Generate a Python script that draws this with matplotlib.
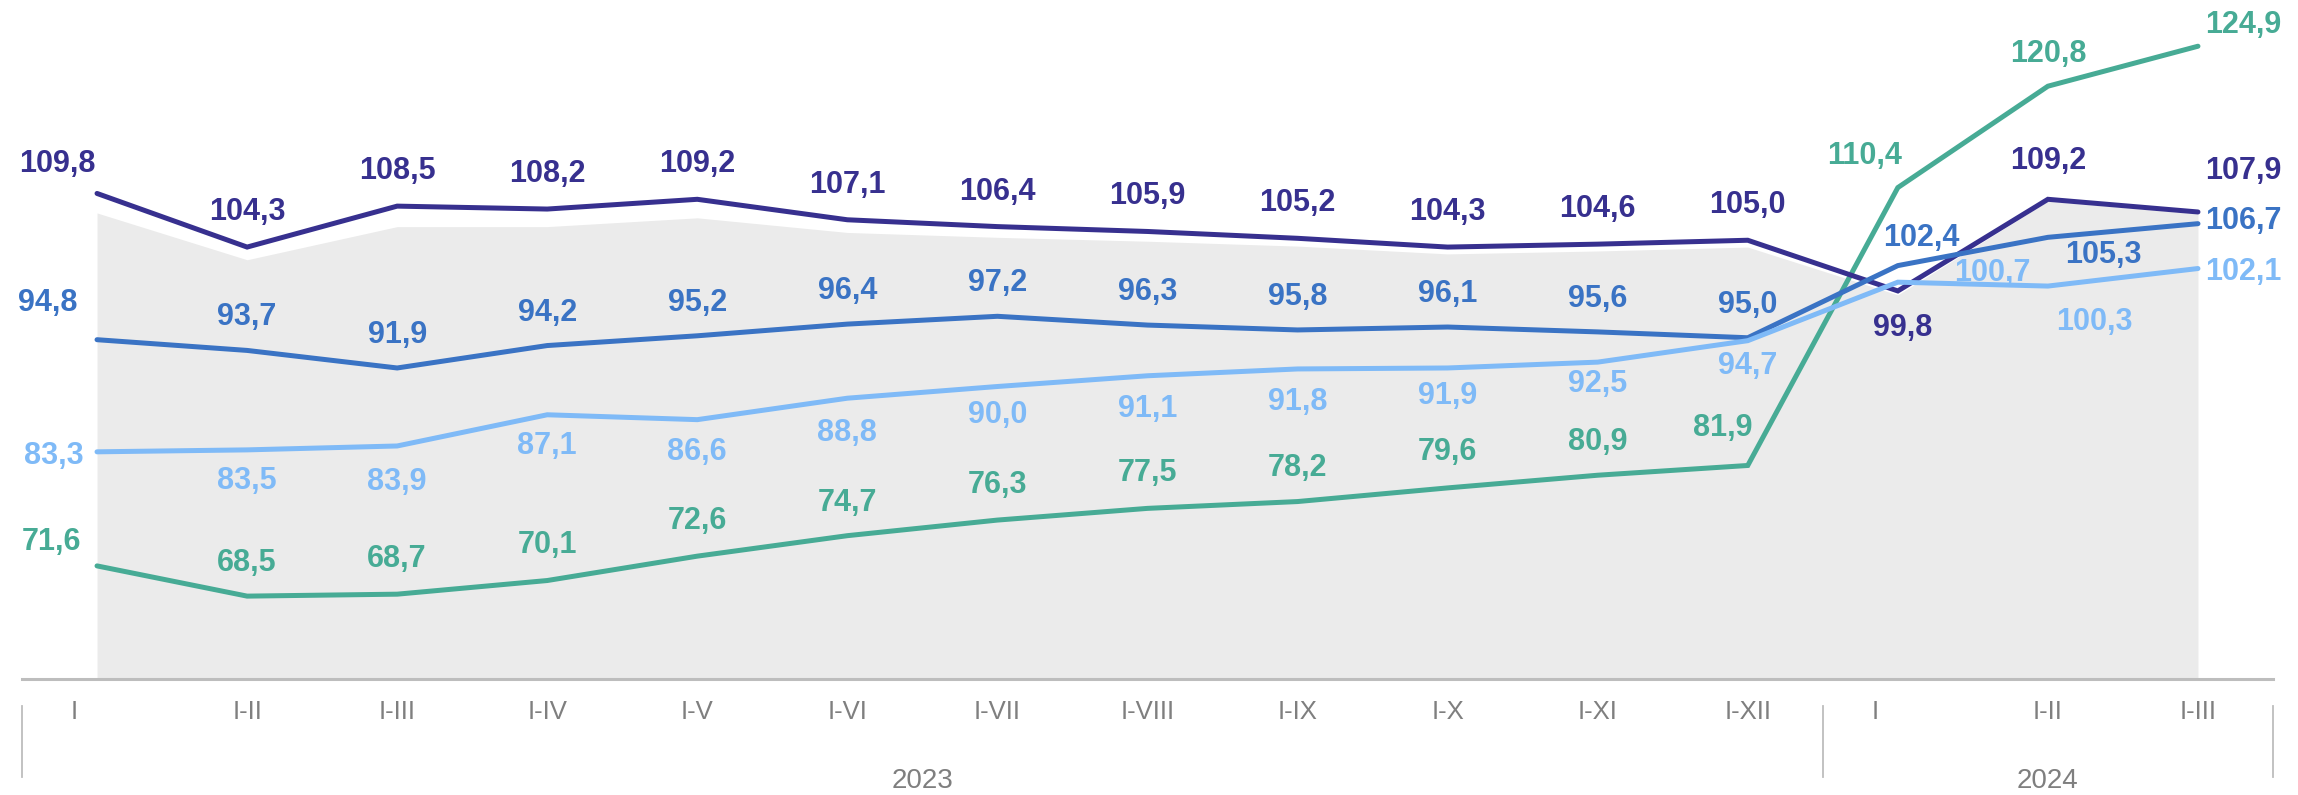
import matplotlib
matplotlib.use("Agg")
import matplotlib.pyplot as plt
import matplotlib.transforms as mtransforms
import numpy as np

# ─────────────────────────────────────────
# DATA
# ─────────────────────────────────────────
periods = ["I", "I-II", "I-III", "I-IV", "I-V", "I-VI", "I-VII", "I-VIII",
           "I-IX", "I-X", "I-XI", "I-XII", "I", "I-II", "I-III"]
years = ["2023", "2024"]
year_counts = [12, 3]

# grey background series (no labels)
total = [107.8, 103.0, 106.4, 106.4, 107.3, 105.8, 105.3, 104.9,
         104.4, 103.6, 103.9, 104.3, 99.4, 109.0, 107.7]
navy_vals = [109.8, 104.3, 108.5, 108.2, 109.2, 107.1, 106.4, 105.9,
             105.2, 104.3, 104.6, 105.0, 99.8, 109.2, 107.9]
blue_vals = [94.8, 93.7, 91.9, 94.2, 95.2, 96.4, 97.2, 96.3,
             95.8, 96.1, 95.6, 95.0, 102.4, 105.3, 106.7]
light_vals = [83.3, 83.5, 83.9, 87.1, 86.6, 88.8, 90.0, 91.1,
              91.8, 91.9, 92.5, 94.7, 100.7, 100.3, 102.1]
green_vals = [71.6, 68.5, 68.7, 70.1, 72.6, 74.7, 76.3, 77.5,
              78.2, 79.6, 80.9, 81.9, 110.4, 120.8, 124.9]

# ─────────────────────────────────────────
# STYLE / LABEL PLACEMENT (pixel offsets)
# ─────────────────────────────────────────
C_NAVY = "#37308F"
C_BLUE = "#3A73C4"
C_LIGHT = "#7FBAF7"
C_GREEN = "#47AB95"
C_AREA = "#EBEBEB"
C_AXIS = "#BDBDBD"
C_TEXT = "#7F7F7F"

up = 35
off_navy = [(-40, 29)] + [(0, up)] * 11 + [(5, -37), (0, 38), (45, 41)]
off_blue = [(-49, 37)] + [(0, 33)] * 11 + [(23, 28), (55, -18), (45, 3)]
off_light = [(-43, -4), (0, -31), (0, -36), (0, -31), (0, -32), (0, -35),
             (0, -29), (0, -33), (0, -33), (0, -28), (0, -22), (0, -25),
             (95, 9), (46, -36), (45, -3)]
off_green = [(-46, 24), (0, 33), (0, 35), (0, 36), (0, 35), (0, 33),
             (0, 35), (0, 35), (0, 34), (0, 36), (0, 33), (-25, 37),
             (-33, 32), (0, 32), (45, 21)]

series = [
    (green_vals, C_GREEN, off_green),
    (navy_vals, C_NAVY, off_navy),
    (blue_vals, C_BLUE, off_blue),
    (light_vals, C_LIGHT, off_light),
]

plt.rcParams["font.family"] = ["Liberation Sans", "DejaVu Sans"]

W, H = 2298, 795
fig = plt.figure(figsize=(W / 100, H / 100), dpi=100)
ax = fig.add_axes([22 / W, 116 / H, (2273 - 22) / W, 679 / H])

x = np.arange(len(periods))
ax.set_xlim(-0.5, len(periods) - 0.5)
ax.set_ylim(60, 60 + 679 / 9.75)

ax.fill_between(x, 60, total, color=C_AREA, lw=0, zorder=1)

for vals, col, offs in series:
    ax.plot(x, vals, color=col, lw=3.6, solid_joinstyle="miter",
            solid_capstyle="round", zorder=3)

for vals, col, offs in series:
    for i, v in enumerate(vals):
        ax.annotate(f"{v:.1f}".replace(".", ","), xy=(i, v),
                    xytext=offs[i], textcoords="offset pixels",
                    ha="center", va="center", fontsize=22,
                    fontweight="bold", color=col, zorder=5)

# ── axes cosmetics ──
for s in ["top", "right", "left"]:
    ax.spines[s].set_visible(False)
ax.spines["bottom"].set_color(C_AXIS)
ax.spines["bottom"].set_linewidth(2.2)
ax.set_xticks([])
ax.set_yticks([])

# ── category labels ──
for i, lbl in enumerate(periods):
    dx = -23 if lbl == "I" else 0
    ax.annotate(lbl, xy=(i, 0), xycoords=("data", "axes fraction"),
                xytext=(dx, -33), textcoords="offset pixels",
                ha="center", va="center", fontsize=18.5, color=C_TEXT)

# ── year groups ──
trans = mtransforms.blended_transform_factory(ax.transData, ax.transAxes)
edges = np.concatenate([[0], np.cumsum(year_counts)]) - 0.5
for e in edges:
    ax.plot([e, e], [-27 / 679, -98 / 679], color=C_AXIS, lw=1.3,
            transform=trans, clip_on=False)
for k, yr in enumerate(years):
    mid = (edges[k] + edges[k + 1]) / 2
    ax.annotate(yr, xy=(mid, 0), xycoords=("data", "axes fraction"),
                xytext=(0, -102), textcoords="offset pixels",
                ha="center", va="center", fontsize=20, color=C_TEXT)

plt.savefig("out.png", dpi=100)
